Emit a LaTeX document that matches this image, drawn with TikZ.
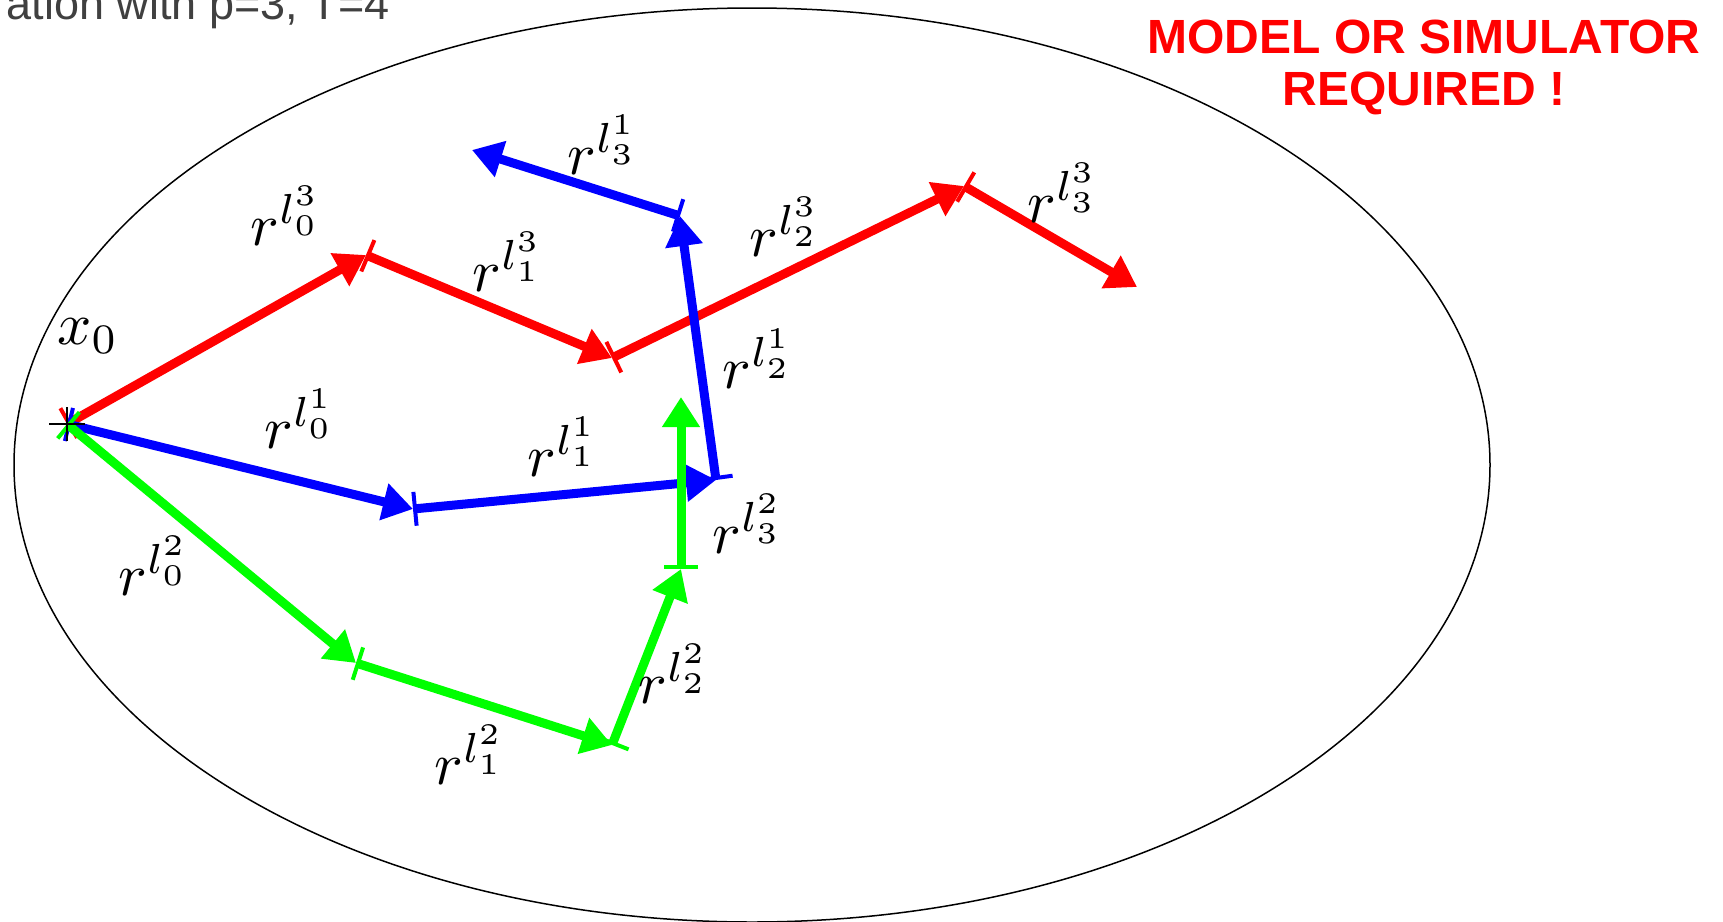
\documentclass[tikz,border=0pt]{standalone}
\usepackage{fontspec}
\newfontfamily\arial{Liberation Sans}
\usetikzlibrary{arrows.meta}
\definecolor{titlegray}{RGB}{64,64,64}
\newcommand{\biglab}[1]{\scalebox{3}{$#1$}}
\begin{document}
\begin{tikzpicture}[x=0.5pt,y=-0.5pt,
  vec/.style={line width=4.5pt, {Bar[width=17pt,line width=2pt]}-{Triangle[length=15pt,width=18pt]}},
  lab/.style={inner sep=0pt},
  bigtext/.style={text=red, font=\arial\bfseries\fontsize{24}{28}\selectfont, inner sep=0pt, anchor=base},
]
\useasboundingbox (0,0) rectangle (1723,921);
\draw[line width=0.75pt] (752,465) ellipse [x radius=738, y radius=457];

\node[anchor=base east, text=titlegray, font=\arial\fontsize{22.5}{27}\selectfont, inner sep=0pt] (title) at (390,19) {ation with p=3, T=4};
\node[bigtext] (warn1) at (1424,53) {MODEL OR SIMULATOR};
\node[bigtext] (warn2) at (1424,105) {REQUIRED !};

\coordinate (x0) at (67,424);
\coordinate (r1) at (366,255);
\coordinate (r2) at (612,358);
\coordinate (r3) at (964,186);
\coordinate (r4) at (1137,287);
\coordinate (b1) at (413,509);
\coordinate (b2) at (716,480);
\coordinate (b3) at (680,216);
\coordinate (b4) at (472,150);
\coordinate (g1) at (356,663);
\coordinate (g2) at (612,745);
\coordinate (g3) at (681,569);
\coordinate (g4) at (681,397);

\draw[vec, red] (x0) -- (r1);
\draw[vec, red] (r1) -- (r2);
\draw[vec, red] (r2) -- (r3);
\draw[vec, red] (r3) -- (r4);
\draw[vec, blue] (x0) -- (b1);
\draw[vec, blue] (b1) -- (b2);
\draw[vec, blue] (b2) -- (b3);
\draw[vec, blue] (b3) -- (b4);
\draw[vec, green] (x0) -- (g1);
\draw[vec, green] (g1) -- (g2);
\draw[vec, green] (g2) -- (g3);
\draw[vec, green] (g3) -- (g4);

\draw[line width=0.75pt] (x0) +(-18,0) -- +(18,0) (x0) +(0,-17) -- +(0,17);

\node[lab] (lx0) at (88,336) {\biglab{x_0}};
\node[lab] (lr03) at (286,216) {\biglab{r^{l_0^3}}};
\node[lab] (lr13) at (508,262) {\biglab{r^{l_1^3}}};
\node[lab] (lr23) at (785,227) {\biglab{r^{l_2^3}}};
\node[lab] (lr33) at (1063,193) {\biglab{r^{l_3^3}}};
\node[lab] (lr01) at (300,419) {\biglab{r^{l_0^1}}};
\node[lab] (lr11) at (563,447) {\biglab{r^{l_1^1}}};
\node[lab] (lr21) at (758,359) {\biglab{r^{l_2^1}}};
\node[lab] (lr31) at (603,145) {\biglab{r^{l_3^1}}};
\node[lab] (lr02) at (154,566) {\biglab{r^{l_0^2}}};
\node[lab] (lr12) at (470,755) {\biglab{r^{l_1^2}}};
\node[lab] (lr22) at (674,674) {\biglab{r^{l_2^2}}};
\node[lab] (lr32) at (748,524) {\biglab{r^{l_3^2}}};
\end{tikzpicture}
\end{document}
